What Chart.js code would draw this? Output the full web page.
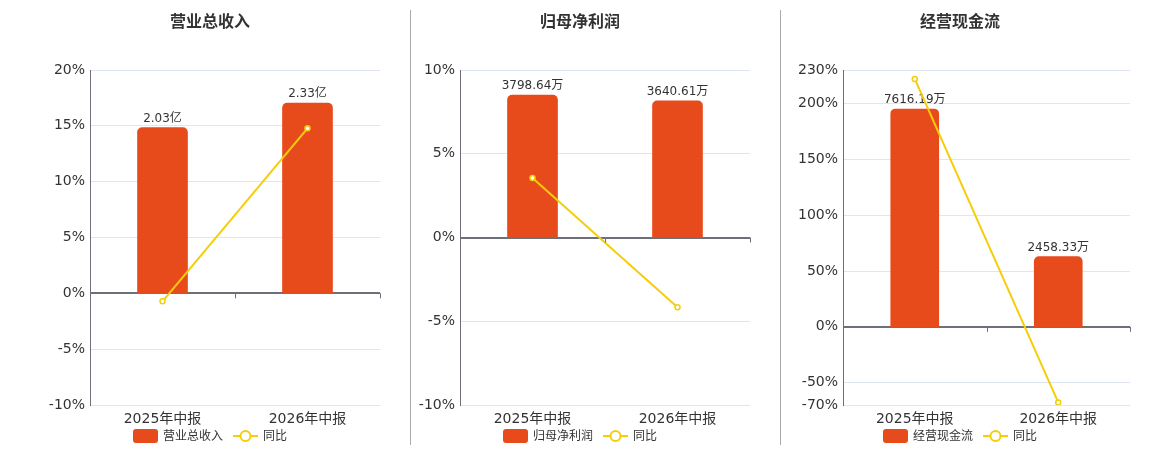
<!DOCTYPE html>
<html><head><meta charset="utf-8">
<script src="https://cdn.jsdelivr.net/npm/chart.js@4.4.1/dist/chart.umd.min.js"></script>
<style>
html,body{margin:0;padding:0;background:#fff;}
#wrap{position:relative;width:1160px;height:450px;overflow:hidden;}
canvas{position:absolute;top:0;}
.sep{position:absolute;top:10px;height:435px;width:1px;background:#aaa;}
</style></head>
<body><div id="wrap">
<div class="sep" style="left:410px"></div>
<div class="sep" style="left:780px"></div>
<canvas id="c1" style="left:0px" width="420" height="450"></canvas>
<canvas id="c2" style="left:390px" width="380" height="450"></canvas>
<canvas id="c3" style="left:780px" width="360" height="450"></canvas>
</div>
<script>
const categories = ['2025年中报', '2026年中报'];
const titles = ['营业总收入', '归母净利润', '经营现金流'];
const barNames = ['营业总收入', '归母净利润', '经营现金流'];
const lineName = '同比';
// bar values (in units shown by labels)
const revenue = [2.03, 2.33];
const netProfit = [3798.64, 3640.61];
const cashFlow = [7616.19, 2458.33];
const revenueLabels = ['2.03亿', '2.33亿'];
const netProfitLabels = ['3798.64万', '3640.61万'];
const cashFlowLabels = ['7616.19万', '2458.33万'];
// yoy percentages
const revenueYoY = [-0.72, 14.78];
const netProfitYoY = [3.55, -4.16];
const cashFlowYoY = [222.0, -67.72];
// percent axis ticks
const ticks1 = [-10, -5, 0, 5, 10, 15, 20];
const ticks2 = [-10, -5, 0, 5, 10];
const ticks3 = [-70, -50, 0, 50, 100, 150, 200, 230];
// hidden bar axis ranges (zero aligned with percent axis)
const barRange1 = [-1.3675, 2.735];
const barRange2 = [-4465, 4465];
const barRange3 = [-2733, 8979];

const BAR_COLOR = '#E84B1B';
const LINE_COLOR = '#F5CD0A';
const FONT = "'DejaVu Sans', 'Noto Sans CJK SC', sans-serif";

const panelPlugin = {
  id: 'panel',
  afterDatasetDraw(chart, args, opts) {
    if (args.index !== 0) return;
    const ctx = chart.ctx;
    const meta = chart.getDatasetMeta(0);
    ctx.save();
    ctx.font = '12px ' + FONT; ctx.fillStyle = '#333';
    ctx.textAlign = 'center'; ctx.textBaseline = 'bottom';
    meta.data.forEach((el, i) => { ctx.fillText(opts.labels[i], el.x, el.y - 3); });
    ctx.restore();
  },
  afterDraw(chart, args, opts) {
    const ctx = chart.ctx, ca = chart.chartArea;
    const y0 = chart.scales.y.getPixelForValue(0);
    const n = chart.data.labels.length;
    ctx.save();
    // small category boundary ticks below the zero line
    ctx.strokeStyle = '#6E7079'; ctx.lineWidth = 1;
    for (let i = 0; i <= n; i++) {
      const x = Math.round(ca.left + i * (ca.right - ca.left) / n) + 0.5;
      ctx.beginPath(); ctx.moveTo(x, y0); ctx.lineTo(x, y0 + 5); ctx.stroke();
    }
    // title
    ctx.font = 'bold 16px ' + FONT; ctx.fillStyle = '#333';
    ctx.textAlign = 'center'; ctx.textBaseline = 'middle';
    ctx.fillText(opts.title, chart.width / 2, 23);
    // legend
    const names = chart.data.datasets.map(d => d.label);
    ctx.font = '12px ' + FONT;
    const w0 = ctx.measureText(names[0]).width, w1 = ctx.measureText(names[1]).width;
    const total = 25 + 5 + w0 + 10 + 25 + 5 + w1;
    let x = chart.width / 2 - total / 2;
    const ly = 436;
    ctx.fillStyle = BAR_COLOR;
    ctx.beginPath(); ctx.roundRect(x, ly - 7, 25, 14, 3); ctx.fill();
    x += 30;
    ctx.fillStyle = '#333'; ctx.textAlign = 'left';
    ctx.fillText(names[0], x, ly + 1);
    x += w0 + 10;
    ctx.strokeStyle = LINE_COLOR; ctx.lineWidth = 2;
    ctx.beginPath(); ctx.moveTo(x, ly); ctx.lineTo(x + 25, ly); ctx.stroke();
    ctx.fillStyle = '#fff';
    ctx.beginPath(); ctx.arc(x + 12.5, ly, 5, 0, Math.PI * 2); ctx.fill(); ctx.stroke();
    x += 30;
    ctx.fillStyle = '#333';
    ctx.fillText(names[1], x, ly + 1);
    ctx.restore();
  }
};

function build(id, title, barName, bars, labels, yoy, tickVals, barRange, leftW, rightPad, barW) {
  new Chart(document.getElementById(id), {
    type: 'bar',
    data: {
      labels: categories,
      datasets: [
        { type: 'bar', label: barName, data: bars, yAxisID: 'yb', backgroundColor: BAR_COLOR,
          barThickness: barW, borderRadius: 5, order: 1 },
        { type: 'line', label: lineName, data: yoy, yAxisID: 'y', borderColor: LINE_COLOR,
          borderWidth: 2, pointRadius: 2.5, pointBorderWidth: 1.5, pointBackgroundColor: '#fff',
          pointBorderColor: LINE_COLOR, tension: 0, order: 0 }
      ]
    },
    options: {
      responsive: false, animation: false, devicePixelRatio: 1,
      layout: { padding: { top: 70, left: 0, right: rightPad, bottom: 0 } },
      plugins: {
        tooltip: { enabled: false },
        panel: { title: title, labels: labels },
        legend: { display: false }
      },
      scales: {
        x: {
          grid: { display: false, drawTicks: false }, border: { display: false },
          ticks: { font: { size: 14, family: FONT }, color: '#333', padding: 6 },
          afterFit(s) { s.height = 45; }
        },
        y: {
          position: 'left', min: tickVals[0], max: tickVals[tickVals.length - 1],
          afterBuildTicks(s) { s.ticks = tickVals.map(v => ({ value: v })); },
          afterFit(s) { s.width = leftW; },
          border: { display: true, color: '#6E7079', width: 1 },
          grid: {
            drawTicks: false,
            color: c => (c.tick && c.tick.value === 0) ? '#6E7079' : '#E0E6F1',
            lineWidth: c => (c.tick && c.tick.value === 0) ? 2 : 1
          },
          ticks: { font: { size: 14, family: FONT }, color: '#333', padding: 5,
                   callback: v => v + '%' }
        },
        yb: { display: false, min: barRange[0], max: barRange[1] }
      }
    },
    plugins: [panelPlugin]
  });
}

build('c1', titles[0], barNames[0], revenue, revenueLabels, revenueYoY, ticks1, barRange1, 90, 40, 50);
build('c2', titles[1], barNames[1], netProfit, netProfitLabels, netProfitYoY, ticks2, barRange2, 70, 20, 50);
build('c3', titles[2], barNames[2], cashFlow, cashFlowLabels, cashFlowYoY, ticks3, barRange3, 63, 10, 48);
</script>
</body></html>
